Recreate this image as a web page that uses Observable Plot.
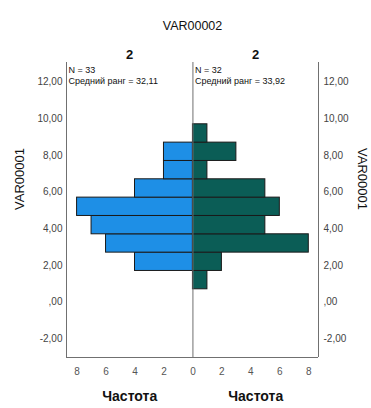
<!DOCTYPE html>
<html><head><meta charset="utf-8">
<script src="https://cdn.jsdelivr.net/npm/d3@7"></script>
<script src="https://cdn.jsdelivr.net/npm/@observablehq/plot@0.6"></script>
<style>body{margin:0;background:#fff;}</style>
</head><body><div id="chart"></div>
<script>
// Data
const binStarts = [0.7, 1.7, 2.7, 3.7, 4.7, 5.7, 6.7, 7.7, 8.7];
const binWidth = 1;
const leftCounts = [0, 4, 6, 7, 8, 4, 2, 2, 0];   // group 1 (N = 33)
const rightCounts = [1, 2, 8, 5, 6, 5, 1, 3, 1];  // group 2 (N = 32)
const yTicks = [-2, 0, 2, 4, 6, 8, 10, 12];
const xTicks = [-8, -6, -4, -2, 0, 2, 4, 6, 8];
const panelHeaders = ["2", "2"];
const panelStats = ["N = 33\nСредний ранг = 32,11", "N = 32\nСредний ранг = 33,92"];
const title = "VAR00002";
const yTitle = "VAR00001";
const xTitle = "Частота";
const colors = ["#1e8fe6", "#0b5d56"];

const xDomain = [-8.73, 8.67];
const yDomain = [-3.02, 13.07];

const bars = [];
binStarts.forEach((b, i) => {
  if (leftCounts[i] > 0) bars.push({y1: b, y2: b + binWidth, x1: 0, x2: -leftCounts[i], side: 0});
  if (rightCounts[i] > 0) bars.push({y1: b, y2: b + binWidth, x1: 0, x2: rightCounts[i], side: 1});
});

const fmtY = d => (d < 0 ? "-" : "") + (Math.abs(d) >= 1 ? String(Math.abs(d)) : "") + ",00";
const panelCenters = [xDomain[0] / 2, xDomain[1] / 2];
const headers = panelHeaders.map((t, i) => ({x: panelCenters[i], t}));
const stats = panelStats.map((t, i) => ({x: i === 0 ? xDomain[0] : 0, t}));
const xTitles = panelCenters.map(x => ({x, t: xTitle}));

const chart = Plot.plot({
  width: 371,
  height: 408,
  marginLeft: 66,
  marginRight: 53,
  marginTop: 62,
  marginBottom: 51,
  style: {fontFamily: "'Liberation Sans', Arial, sans-serif", fontSize: "10px", background: "#fff", color: "#333"},
  x: {domain: xDomain},
  y: {domain: yDomain},
  marks: [
    Plot.rect(bars, {x1: "x1", x2: "x2", y1: "y1", y2: "y2", fill: d => colors[d.side], stroke: "#1a1a1a", strokeWidth: 1}),
    Plot.ruleX([xDomain[0], 0, xDomain[1]], {stroke: "#707070", strokeWidth: 1}),
    Plot.ruleY([yDomain[0]], {stroke: "#707070", strokeWidth: 1}),
    Plot.axisY(yTicks, {anchor: "left", tickSize: 0, tickPadding: 4, tickFormat: fmtY, label: null, fill: "#444"}),
    Plot.axisY(yTicks, {anchor: "right", tickSize: 0, tickPadding: 5, tickFormat: fmtY, label: null, fill: "#444"}),
    Plot.axisX(xTicks, {anchor: "bottom", tickSize: 0, tickPadding: 10, tickFormat: d => Math.abs(d), label: null, fill: "#555"}),
    Plot.text([title], {frameAnchor: "top", dy: -41, fontSize: 12.5, fill: "#111"}),
    Plot.text(headers, {x: "x", text: "t", frameAnchor: "top", dy: -13, fontSize: 13, fontWeight: "bold", fill: "#111"}),
    Plot.text(stats, {x: "x", text: "t", frameAnchor: "top", textAnchor: "start", lineAnchor: "top", dx: 2, dy: 3, fontSize: 9, lineHeight: 1.2, fill: "#111"}),
    Plot.text(xTitles, {x: "x", text: "t", frameAnchor: "bottom", dy: 43, fontSize: 14, fontWeight: "bold", fill: "#111"}),
    Plot.text([yTitle], {frameAnchor: "left", rotate: -90, dx: -47, fontSize: 13, fill: "#111"}),
    Plot.text([yTitle], {frameAnchor: "right", rotate: 90, dx: 44, fontSize: 13, fill: "#111"})
  ]
});
document.getElementById("chart").appendChild(chart);
</script>
</body></html>
